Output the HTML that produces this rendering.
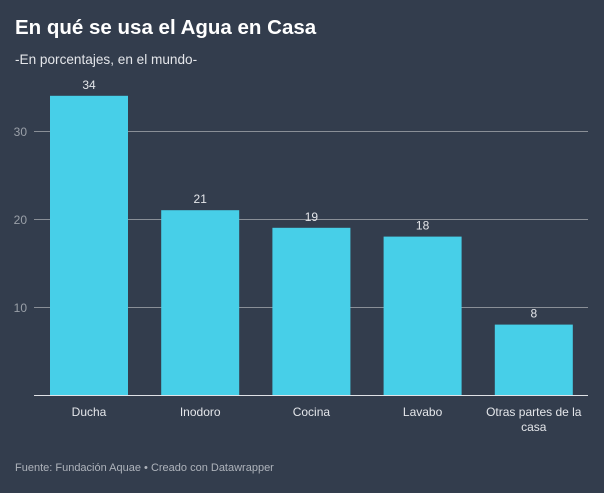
<!DOCTYPE html>
<html><head><meta charset="utf-8"><style>
html,body{margin:0;padding:0;background:#333d4d;width:604px;height:493px;overflow:hidden;font-family:"Liberation Sans",sans-serif}
svg{display:block}
</style></head><body>
<svg width="604" height="493">
<rect width="604" height="493" fill="#333d4d"/>
<text x="15" y="34" font-size="20.5" font-weight="bold" fill="#ffffff">En qué se usa el Agua en Casa</text>
<text x="15" y="64" font-size="13.6" fill="#e4e6ea">-En porcentajes, en el mundo-</text>
<g id="plot"></g>
<text x="15" y="471" font-size="11" fill="#aeb3bb">Fuente: Fundación Aquae • Creado con Datawrapper</text>
</svg>
<script>
const categories=["Ducha","Inodoro","Cocina","Lavabo","Otras partes de la casa"];
const values=[34,21,19,18,8];
const ticks=[10,20,30];
const ns="http://www.w3.org/2000/svg";
const g=document.getElementById('plot');
const y0=395,pxPer=8.8,x0=50,step=111.2,bw=78;
const y=v=>y0-v*pxPer;
const x=i=>x0+i*step;
function el(t,a){const e=document.createElementNS(ns,t);for(const k in a)e.setAttribute(k,a[k]);g.appendChild(e);return e;}
ticks.forEach(t=>{
 const l=el('line',{x1:34,x2:588,y1:y(t)+0.5,y2:y(t)+0.5,stroke:'#8a8f97','stroke-width':1});
 
 
 const tx=el('text',{x:27,y:y(t)+5,'text-anchor':'end','font-size':12,fill:'#9aa0a8'});
 tx.textContent=t;
 
 
});
values.forEach((v,i)=>{
 const r=el('rect',{x:x(i),y:y(v),width:bw,height:y0-y(v),fill:'#47cfe8'});
 
 
 const lb=el('text',{x:x(i)+bw/2,y:y(v)-7,'text-anchor':'middle','font-size':12,fill:'#e4e6ea'});
 lb.textContent=v;
 
 
 const words=categories[i]==="Otras partes de la casa"?["Otras partes de la","casa"]:[categories[i]];
 words.forEach((w,j)=>{
  const c=el('text',{x:x(i)+bw/2,y:416+j*15,'text-anchor':'middle','font-size':12,fill:'#e4e6ea'});
  c.textContent=w;
  
  
 });
});
const base=el('line',{x1:34,x2:588,y1:y0+0.5,y2:y0+0.5,stroke:'#e0e2e6','stroke-width':1});


</script>
</body></html>
